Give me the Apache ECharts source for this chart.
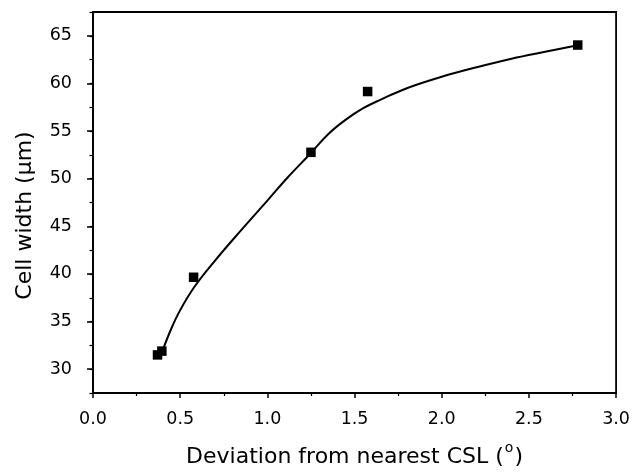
<!DOCTYPE html>
<html>
<head>
<meta charset="utf-8">
<script src="https://cdn.jsdelivr.net/npm/echarts@6/dist/echarts.min.js"></script>
<style>html,body{margin:0;padding:0;background:#fff;}#c{width:633px;height:473px;}</style>
</head>
<body>
<div id="c"></div>
<script>
// Measured points
const pointX = [0.37, 0.395, 0.577, 1.25, 1.575, 2.78];
const pointY = [31.5, 31.9, 39.65, 52.77, 59.15, 64.03];
// Fitted curve
const curveX = [0.40, 0.45, 0.50, 0.58, 0.70, 0.85, 1.00, 1.12, 1.25, 1.35, 1.45, 1.55, 1.65, 1.80, 2.00, 2.20, 2.40, 2.60, 2.78];
const curveY = [32.0, 34.3, 36.2, 38.6, 41.4, 44.6, 47.7, 50.2, 52.7, 54.7, 56.2, 57.4, 58.3, 59.5, 60.7, 61.7, 62.6, 63.35, 64.0];
// Axis ticks
const yMajorTicks = [30, 35, 40, 45, 50, 55, 60, 65];
const xTitle = 'Deviation from nearest CSL (';
const yTitle = 'Cell width (\u03bcm)';

const FONT = 'DejaVu Sans, Liberation Sans, Arial, sans-serif';
const chart = echarts.init(document.getElementById('c'));
chart.setOption({
  animation: false,
  backgroundColor: '#fff',
  grid: {left: 93, right: 15, top: 12, bottom: 77, show: true, borderColor: '#000', borderWidth: 1.8, backgroundColor: 'transparent'},
  xAxis: {
    type: 'value', min: 0, max: 3, interval: 0.5,
    name: '{t|' + xTitle + '}{s|o}{t|)}',
    nameLocation: 'middle', nameGap: 48,
    nameTextStyle: {rich: {
      t: {fontFamily: FONT, fontSize: 22, color: '#000', verticalAlign: 'bottom'},
      s: {fontFamily: FONT, fontSize: 14, color: '#000', verticalAlign: 'bottom', padding: [0, 1, 13, 1]}
    }},
    axisLine: {show: true, onZero: false, lineStyle: {color: '#000', width: 1.8}},
    axisTick: {show: true, inside: false, length: 5, lineStyle: {color: '#000', width: 1.5}},
    minorTick: {show: true, splitNumber: 2, length: 3, lineStyle: {color: '#000', width: 1.2}},
    axisLabel: {fontFamily: FONT, fontSize: 17.5, color: '#000', margin: 17, formatter: v => v.toFixed(1)},
    splitLine: {show: false}
  },
  yAxis: [{
    type: 'value', min: 27.5, max: 67.5, interval: 2.5,
    name: yTitle, nameLocation: 'middle', nameGap: 57,
    nameTextStyle: {fontFamily: FONT, fontSize: 22, color: '#000', padding: [0, 26, 0, 0]},
    axisLine: {show: true, onZero: false, lineStyle: {color: '#000', width: 1.8}},
    axisTick: {show: true, inside: false, length: 3.5, lineStyle: {color: '#000', width: 1.2}},
    axisLabel: {fontFamily: FONT, fontSize: 17.5, color: '#000', margin: 21,
      formatter: v => (Math.abs(v % 5) < 1e-9 ? String(v) : '')},
    splitLine: {show: false}
  }, {
    type: 'value', min: 27.5, max: 67.5, position: 'left',
    axisLine: {show: false},
    axisTick: {show: true, inside: false, length: 6, customValues: yMajorTicks, lineStyle: {color: '#000', width: 1.5}},
    axisLabel: {show: false},
    splitLine: {show: false}
  }],
  series: [{
    type: 'line', smooth: 0.4, symbol: 'none',
    data: curveX.map((x, i) => [x, curveY[i]]),
    lineStyle: {color: '#000', width: 2}, z: 2
  }, {
    type: 'scatter', symbol: 'rect', symbolSize: 9.5,
    data: pointX.map((x, i) => [x, pointY[i]]),
    itemStyle: {color: '#000', opacity: 1}, z: 3
  }]
});
</script>
</body>
</html>
